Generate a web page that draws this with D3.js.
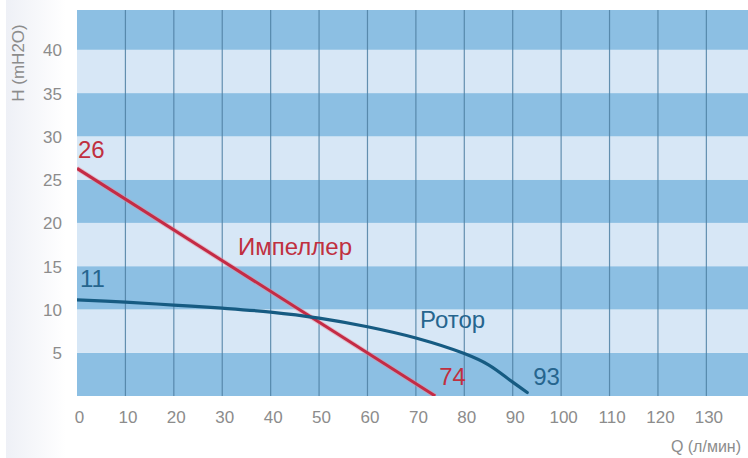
<!DOCTYPE html>
<html>
<head>
<meta charset="utf-8">
<script src="https://cdn.jsdelivr.net/npm/d3@7"></script>
<style>
  html, body { margin: 0; padding: 0; background: #ffffff; }
  svg { display: block; font-family: "Liberation Sans", Arial, sans-serif; }
</style>
</head>
<body>
<svg id="chart" width="748" height="458"></svg>
<script>
// ---- data ----
const xTicks = [0, 10, 20, 30, 40, 50, 60, 70, 80, 90, 100, 110, 120, 130];
const yTicks = [5, 10, 15, 20, 25, 30, 35, 40];
const bandEdges = [0, 5, 10, 15, 20, 25, 30, 35, 40, 45];

const impellerQ = [0, 74];
const impellerH = [26.3, 0];

const rotorQ = [0, 10, 20, 30, 40, 50, 60, 70, 80, 85, 90, 93];
const rotorH = [11.1, 10.85, 10.5, 10.15, 9.7, 9.0, 8.0, 6.7, 4.9, 3.6, 1.6, 0.4];

const xTitle = "Q (л/мин)";
const yTitle = "H (mH2O)";
const impellerName = "Импеллер";
const rotorName = "Ротор";

// ---- layout ----
const svg = d3.select("#chart");
const plot = { left: 77, right: 748, top: 10, bottom: 396 };

const x = d3.scaleLinear().domain([0, 138.6]).range([plot.left, plot.right]);
const y = d3.scaleLinear().domain([0, 44.6]).range([plot.bottom, plot.top]);

// subtle paper shade on left
const defs = svg.append("defs");
const grad = defs.append("linearGradient").attr("id", "shade").attr("x1", 0).attr("x2", 1);
grad.append("stop").attr("offset", "0%").attr("stop-color", "#eef0f6");
grad.append("stop").attr("offset", "100%").attr("stop-color", "#ffffff");
svg.append("rect").attr("x", 6).attr("y", 0).attr("width", 60).attr("height", 458).attr("fill", "url(#shade)");

defs.append("clipPath").attr("id", "clip")
  .append("rect").attr("x", plot.left).attr("y", plot.top)
  .attr("width", plot.right - plot.left).attr("height", plot.bottom - plot.top);

const g = svg.append("g").attr("clip-path", "url(#clip)");

// bands
const bands = d3.pairs(bandEdges);
g.selectAll("rect.band").data(bands).join("rect")
  .attr("class", "band")
  .attr("x", plot.left)
  .attr("width", plot.right - plot.left)
  .attr("y", d => y(d[1]))
  .attr("height", d => y(d[0]) - y(d[1]))
  .attr("fill", (d, i) => i % 2 === 0 ? "#8cbfe3" : "#d7e7f6");

// vertical grid lines
g.selectAll("line.vg").data(xTicks.filter(v => v > 0)).join("line")
  .attr("class", "vg")
  .attr("x1", d => x(d)).attr("x2", d => x(d))
  .attr("y1", plot.top).attr("y2", plot.bottom)
  .attr("stroke", "#4d7fa2").attr("stroke-width", 1.2).attr("stroke-opacity", 0.85);

// lines
const line = d3.line().x(d => x(d[0])).y(d => y(d[1]));
const lineCurve = d3.line().x(d => x(d[0])).y(d => y(d[1])).curve(d3.curveCatmullRom.alpha(0.5));

const impData = d3.zip(impellerQ, impellerH);
const rotData = d3.zip(rotorQ, rotorH);

g.append("path").datum(impData).attr("d", line)
  .attr("fill", "none").attr("stroke", "#f08a96").attr("stroke-width", 5).attr("stroke-opacity", 0.45);
g.append("path").datum(impData).attr("d", line)
  .attr("fill", "none").attr("stroke", "#c42b45").attr("stroke-width", 3);

g.append("path").datum(rotData).attr("d", lineCurve)
  .attr("fill", "none").attr("stroke", "#165b82").attr("stroke-width", 3.2)
  .attr("stroke-linecap", "round");

// axes (tick labels only)
const xAxis = d3.axisBottom(x).tickValues(xTicks).tickSize(0).tickPadding(0).tickFormat(d3.format("d"));
const xa = svg.append("g").attr("transform", `translate(2,${plot.bottom + 27})`).call(xAxis);
xa.select(".domain").remove();
xa.selectAll("text").attr("font-size", 17).attr("fill", "#8c8c8c")
  .attr("font-family", "'Liberation Sans', Arial, sans-serif").attr("dy", 0);

const yAxis = d3.axisLeft(y).tickValues(yTicks).tickSize(0).tickPadding(0).tickFormat(d3.format("d"));
const ya = svg.append("g").attr("transform", `translate(${plot.left - 15},0)`).call(yAxis);
ya.select(".domain").remove();
ya.selectAll("text").attr("font-size", 17).attr("fill", "#8c8c8c")
  .attr("font-family", "'Liberation Sans', Arial, sans-serif").attr("dy", "0.35em");

// axis titles
svg.append("text").text(xTitle)
  .attr("x", 741).attr("y", 452).attr("text-anchor", "end")
  .attr("font-size", 16).attr("fill", "#8c8c8c");
svg.append("text").text(yTitle)
  .attr("transform", "translate(24,63) rotate(-90)")
  .attr("text-anchor", "middle")
  .attr("font-size", 17).attr("fill", "#8c8c8c");

// annotations
const red = "#c0303f", blue = "#26658e";
svg.append("text").text(d3.format("d")(26))
  .attr("x", x(0) + 1).attr("y", y(impellerH[0]) - 10)
  .attr("font-size", 24).attr("fill", red);
svg.append("text").text(d3.format("d")(impellerQ[1]))
  .attr("x", x(impellerQ[1]) + 4).attr("y", 385)
  .attr("font-size", 24).attr("fill", red);
svg.append("text").text(impellerName)
  .attr("x", 238).attr("y", 255)
  .attr("font-size", 24).attr("fill", red);

svg.append("text").text(d3.format("d")(11))
  .attr("x", x(0) + 3).attr("y", 287)
  .attr("font-size", 24).attr("fill", blue);
svg.append("text").text(d3.format("d")(93))
  .attr("x", x(93) + 6).attr("y", 385)
  .attr("font-size", 24).attr("fill", blue);
svg.append("text").text(rotorName)
  .attr("x", 420).attr("y", 328)
  .attr("font-size", 24).attr("fill", blue);
</script>
</body>
</html>
